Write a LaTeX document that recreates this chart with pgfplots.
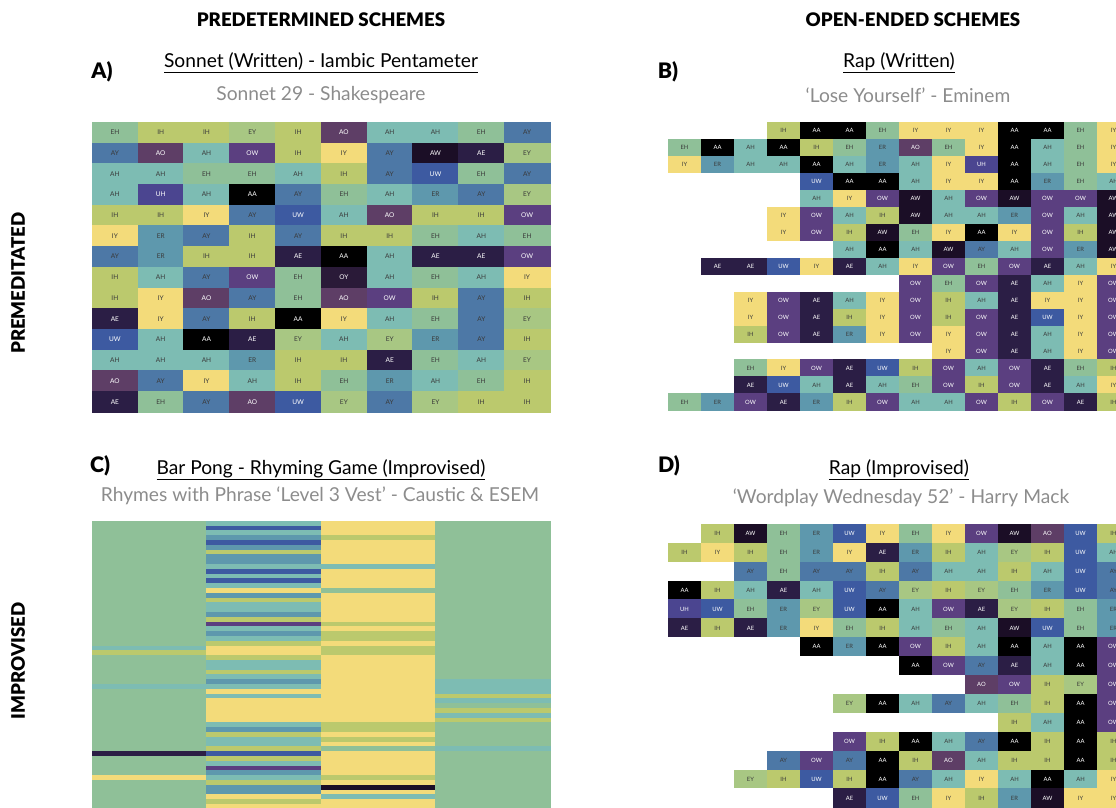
\documentclass[border=0pt]{standalone}
\usepackage{pgfplots}
\pgfplotsset{compat=1.18}
\usepackage{pgfplotstable}
\usepackage{fontspec}
\setmainfont{Lato}
\newfontfamily\heavyfont{Lato Black}

% phoneme palette
\definecolor{cAA}{HTML}{000000}
\definecolor{cAW}{HTML}{1B0E26}
\definecolor{cAE}{HTML}{2B1E45}
\definecolor{cOY}{HTML}{2A1A38}
\definecolor{cAO}{HTML}{5E3E66}
\definecolor{cOW}{HTML}{5B3F80}
\definecolor{cUH}{HTML}{4B4590}
\definecolor{cUW}{HTML}{3D5AA1}
\definecolor{cAY}{HTML}{4D78A6}
\definecolor{cER}{HTML}{5E98AD}
\definecolor{cAH}{HTML}{7DBCB3}
\definecolor{cEH}{HTML}{8FC098}
\definecolor{cEY}{HTML}{A8C783}
\definecolor{cIH}{HTML}{BBC96D}
\definecolor{cIY}{HTML}{F3DB7A}
\definecolor{cNA}{HTML}{FFFFFF}
\definecolor{lbldark}{HTML}{3A3A3A}
\definecolor{subgray}{HTML}{8C8C8C}

% label colour per phoneme (light text on dark cells)
\def\tcAA{white}\def\tcAW{white}\def\tcAE{white}\def\tcOY{white}
\def\tcAO{white}\def\tcOW{white}\def\tcUH{white}\def\tcUW{white}
\def\tcAY{lbldark}\def\tcER{lbldark}\def\tcAH{lbldark}\def\tcEH{lbldark}
\def\tcEY{lbldark}\def\tcIH{lbldark}\def\tcIY{lbldark}
\newcommand\phlabel[1]{\edef\phtmp{#1}%
  \ifcsname tc\phtmp\endcsname\textcolor{\csname tc\phtmp\endcsname}{\phtmp}\fi}

% cell size, set per panel
\newdimen\cellw \newdimen\cellh
\pgfdeclareplotmark{blank}{}
\newcommand\cellfont{\fontsize{4.9}{5.5}\selectfont}

% every data point becomes a filled cell coloured by its phoneme
\pgfplotsset{
  celltbl/.style={hide axis, y dir=reverse, anchor=center, clip=false},
  phon/.style={
    only marks, mark=blank,
    point meta=explicit symbolic,
    nodes near coords={\phlabel{\pgfplotspointmeta}},
    every node near coord/.append style={anchor=center, inner sep=0pt, outer sep=0pt,
      minimum width=\cellw, minimum height=\cellh,
      fill=c\pgfplotspointmeta, draw=c\pgfplotspointmeta, line width=0.2pt, font=\cellfont},
  },
}

% A) Sonnet 29, one row per line
\pgfplotstableread{
c0 c1 c2 c3 c4 c5 c6 c7 c8 c9
EH IH IH EY IH AO AH AH EH AY
AY AO AH OW IH IY AY AW AE EY
AH AH EH EH AH IH AY UW EH AY
AH UH AH AA AY EH AH ER AY EY
IH IH IY AY UW AH AO IH IH OW
IY ER AY IH AY IH IH EH AH EH
AY ER IH IH AE AA AH AE AE OW
IH AH AY OW EH OY AH EH AH IY
IH IY AO AY EH AO OW IH AY IH
AE IY AY IH AA IY AH EH AY EY
UW AH AA AE EY AH EY ER AY IH
AH AH AH ER IH IH AE EH AH EY
AO AY IY AH IH EH ER AH EH IH
AE EH AY AO UW EY AY EY IH IH
}\tabA

% B) Lose Yourself (NA = no syllable)
\pgfplotstableread{
c0 c1 c2 c3 c4 c5 c6 c7 c8 c9 c10 c11 c12 c13
NA NA NA IH AA AA EH IY IY IY AA AA EH IY
EH AA AH AA IH EH ER AO EH IY AA AH EH IY
IY ER AH AH AA AH ER AH IY UH AA AH EH IY
NA NA NA NA UW AA AA AH IY IY AA ER EH AH
NA NA NA NA AH IY OW AW AH OW AW OW OW AW
NA NA NA IY OW AH IH AW AH AH ER OW AH AW
NA NA NA IY OW IH AW EH IY AA IY OW IH AW
NA NA NA NA NA AH AA AH AW AY AH OW ER AW
NA AE AE UW IY AE AH IY OW EH OW AE AH IY
NA NA NA NA NA NA NA OW EH OW AE AH IY OW
NA NA IY OW AE AH IY OW IH AH AE IY IY OW
NA NA IY OW AE IH IY OW IH OW AE UW IY OW
NA NA IH OW AE ER IY OW IY OW AE AH IY OW
NA NA NA NA NA NA NA NA IY OW AE AH IY OW
NA NA EH IY OW AE UW IH OW AH OW AE EH IH
NA NA AE UW AH AE AH EH OW IH OW AE AH IY
EH ER OW AE ER IH OW AH AH OW IH OW AE IH
}\tabB

% C) Bar Pong, one line per bar
\pgfplotstableread{
c0 c1 c2 c3
EH AH IY EH
EH UW IY EH
EH AH IY EH
EH ER IH EH
EH UW IY EH
EH ER IY EH
EH IH IY EH
EH ER IY EH
EH ER IY EH
EH AH AH EH
EH UW IY EH
EH AH IY EH
EH UW IY EH
EH AH IY EH
EH IY EH EH
EH ER IY EH
EH IH IY EH
EH AH IY EH
EH AH IY EH
EH ER IY EH
EH IH IY EH
EH OW IH EH
EH AH IY EH
EH ER IH EH
EH AH IH EH
EH IH IY EH
AH IY IH EH
IH IY IH EH
EH IH IY EH
EH AH IY EH
EH AH IY EH
EH IH IY EH
EH AH IY EH
EH ER IY AH
AH AH IY AH
EH IY IY AH
EH AH IY IH
EH IY IY AH
EH IY IY EH
EH IY IY IH
EH IY IY AH
EH IY IY IH
EH AH IH EH
EH ER IH EH
EH IH IY EH
EH AH IH EH
EH AH IY EH
EH IH EH AH
AE UW IY EH
EH IH IY EH
EH AH IY EH
EH OW IY EH
EH ER IY EH
IY AH IH EH
EH IH IY EH
EH ER AW EH
EH ER IY EH
EH IY AH EH
EH IH IY EH
EH IY IY EH
}\tabC

% D) Wordplay Wednesday 52
\pgfplotstableread{
c0 c1 c2 c3 c4 c5 c6 c7 c8 c9 c10 c11 c12 c13
NA IH AW EH ER UW IY EH IY OW AW AO UW IH
IH IY IH EH ER IY AE ER IH AH EY IH UW AH
NA NA AY EH AY AY IH AY AH AH IH AH UW AY
AA IH AH AE AH UW AY EY IH EY EH ER UW AY
UH UW EH ER EY UW AA AH OW AE EY IH EH ER
AE IH AE ER IY EH IH AH EH AH AW UW EH ER
NA NA NA NA AA ER AA OW IH AH AA AH AA OW
NA NA NA NA NA NA NA AA OW AY AE AH AA OW
NA NA NA NA NA NA NA NA NA AO OW IH EY OW
NA NA NA NA NA EY AA AH AY AH EH IH AA OW
NA NA NA NA NA NA NA NA NA NA IH AH AA OW
NA NA NA NA NA OW IH AA AH AY AA IH AA IH
NA NA NA AY OW AY AA IH AO AH IH IH AA IH
NA NA EY IH UW IH AA AY AH IY AH AA AH IY
NA NA NA NA NA AE UW EH IY IH ER AW IY IY
}\tabD

\begin{document}
\begin{tikzpicture}
\useasboundingbox (0pt,0pt) rectangle (837pt,-605.25pt);
\clip (0pt,0pt) rectangle (837pt,-605.25pt);

% ---------- A ----------
\cellw=34.35pt \cellh=15.54pt
\begin{axis}[celltbl, at={(240.75pt,-200.25pt)},
  x=34.35pt, y=15.54pt, xmin=-0.5, xmax=9.5, ymin=-0.5, ymax=13.5]
\pgfplotsinvokeforeach{0,...,9}{
  \addplot[phon] table[x expr=#1, y expr=\coordindex, meta=c#1] {\tabA};
}
\end{axis}

% ---------- B ----------
\cellw=24.75pt \cellh=12.73pt
\renewcommand\cellfont{\fontsize{4.4}{5}\selectfont}
\begin{axis}[celltbl, at={(674.25pt,-199.69pt)},
  x=24.75pt, y=12.73pt, xmin=-0.5, xmax=13.5, ymin=-0.5, ymax=16.5]
\pgfplotsinvokeforeach{0,...,13}{
  \addplot[phon] table[x expr=#1, y expr=\coordindex, meta=c#1] {\tabB};
}
\end{axis}

% ---------- C ----------
\cellw=85.875pt \cellh=3.6pt
\begin{axis}[y dir=reverse, anchor=center, clip=false, at={(240.75pt,-498.75pt)},
  x=85.875pt, y=3.6pt, xmin=-0.5, xmax=3.5, ymin=-0.5, ymax=59.5,
  axis line style={draw=none}, major tick length=0pt,
  xtick={0,1,2,3}, xticklabels={}, ytick=\empty,
  xmajorgrids, grid style={densely dotted, line width=0.4pt, black, opacity=0.12},
  axis on top]
\pgfplotsinvokeforeach{0,...,3}{
  \addplot[phon, nodes near coords={}] table[x expr=#1, y expr=\coordindex, meta=c#1] {\tabC};
}
\end{axis}

% ---------- D ----------
\cellw=24.75pt \cellh=14.175pt
\begin{axis}[celltbl, at={(674.25pt,-499.31pt)},
  x=24.75pt, y=14.175pt, xmin=-0.5, xmax=13.5, ymin=-0.5, ymax=14.5]
\pgfplotsinvokeforeach{0,...,13}{
  \addplot[phon] table[x expr=#1, y expr=\coordindex, meta=c#1] {\tabD};
}
\end{axis}

% ---------- headings ----------
\begin{scope}[x=0.75pt, y=-0.75pt]
  \tikzset{head/.style={font=\heavyfont\fontsize{14}{16}\selectfont},
           ttl/.style={font=\fontsize{14.4}{16}\selectfont},
           sub/.style={font=\fontsize{14.4}{16}\selectfont, text=subgray},
           tag/.style={font=\heavyfont\fontsize{16}{18}\selectfont}}
  \node[head] at (321,20) {PREDETERMINED SCHEMES};
  \node[head] at (913,20) {OPEN-ENDED SCHEMES};
  \node[head, rotate=90] at (18,283) {PREMEDITATED};
  \node[head, rotate=90] at (18,661) {IMPROVISED};

  \node[tag] at (102,72) {A)};
  \node[ttl] at (321,63) {\underline{Sonnet (Written) - Iambic Pentameter}};
  \node[sub] at (321,95) {Sonnet 29 - Shakespeare};

  \node[tag] at (668,72) {B)};
  \node[ttl] at (899,63) {\underline{Rap (Written)}};
  \node[sub] at (908,95) {‘Lose Yourself’ - Eminem};

  \node[tag] at (100,466) {C)};
  \node[ttl] at (321,470) {\underline{Bar Pong - Rhyming Game (Improvised)}};
  \node[sub] at (320,496) {Rhymes with Phrase ‘Level 3 Vest’ - Caustic \& ESEM};

  \node[tag] at (669,466) {D)};
  \node[ttl] at (899,470) {\underline{Rap (Improvised)}};
  \node[sub] at (901,498) {‘Wordplay Wednesday 52’ - Harry Mack};
\end{scope}
\end{tikzpicture}
\end{document}
